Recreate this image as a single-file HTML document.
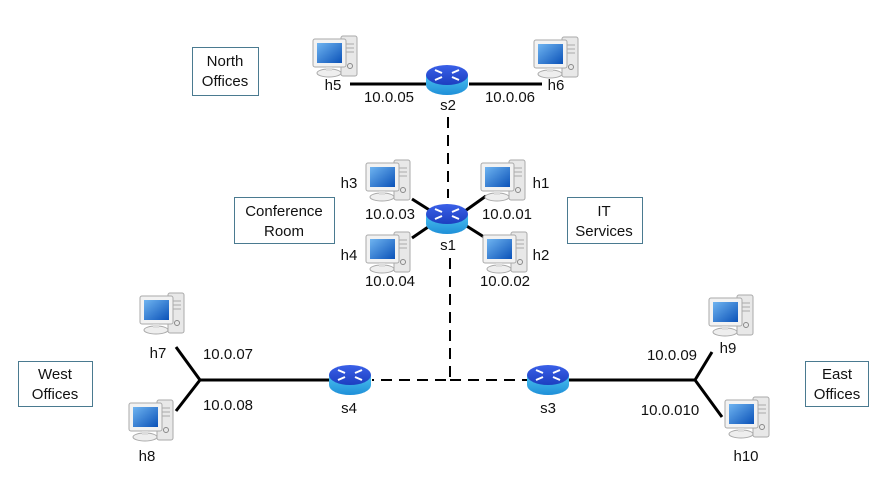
<!DOCTYPE html>
<html><head><meta charset="utf-8"><style>
html,body{margin:0;padding:0;background:#fff;width:895px;height:503px;overflow:hidden}
text{font-family:"Liberation Sans",Arial,sans-serif;font-size:15px;fill:#111}
</style></head><body>
<svg width="895" height="503" viewBox="0 0 895 503" xmlns="http://www.w3.org/2000/svg">
<defs>
<linearGradient id="scr" x1="0" y1="0" x2="1" y2="1"><stop offset="0" stop-color="#6fb4f0"/><stop offset="1" stop-color="#0b52b8"/></linearGradient>
<linearGradient id="rt" x1="0" y1="0" x2="0" y2="1"><stop offset="0" stop-color="#3a60e8"/><stop offset="1" stop-color="#1c3fc0"/></linearGradient>
<linearGradient id="rs" x1="0" y1="0" x2="0" y2="1"><stop offset="0" stop-color="#4ac0f0"/><stop offset="1" stop-color="#1f8fd8"/></linearGradient>
<g id="pc">
<rect x="29" y="0" width="16" height="40" rx="2" fill="#e8e8e8" stroke="#aaa"/>
<line x1="32" y1="8" x2="42" y2="8" stroke="#aaa"/><line x1="32" y1="12" x2="42" y2="12" stroke="#aaa"/><line x1="32" y1="16" x2="42" y2="16" stroke="#aaa"/>
<circle cx="38" cy="30" r="2.5" fill="none" stroke="#888"/>
<rect x="1" y="3" width="33" height="28" rx="2" fill="#f2f2f2" stroke="#aaa"/>
<rect x="5" y="7" width="25" height="20" fill="url(#scr)"/>
<ellipse cx="17" cy="37" rx="12" ry="4" fill="#eee" stroke="#aaa"/>
<rect x="14" y="31" width="6" height="4" fill="#ddd"/>
</g>
<g id="rtr">
<path d="M-21,-5 v10 a21,10 0 0 0 42,0 v-10 z" fill="url(#rs)"/>
<ellipse cx="0" cy="-5" rx="21" ry="10" fill="url(#rt)"/>
<g stroke="#fff" stroke-width="2"><line x1="-12" y1="-10" x2="-5" y2="-7"/><line x1="12" y1="-10" x2="5" y2="-7"/><line x1="-12" y1="0" x2="-5" y2="-3"/><line x1="12" y1="0" x2="5" y2="-3"/></g>
</g>
</defs>
<g stroke="#000" stroke-width="3" fill="none">
<line x1="350" y1="84" x2="426" y2="84"/><line x1="469" y1="84" x2="542" y2="84"/>
<line x1="412" y1="199" x2="431" y2="211"/><line x1="465" y1="211" x2="486" y2="196"/>
<line x1="412" y1="238" x2="431" y2="225"/><line x1="465" y1="225" x2="484" y2="237"/>
<polyline points="176,347 200,380 176,411"/><line x1="200" y1="380" x2="330" y2="380"/>
<line x1="568" y1="380" x2="695" y2="380"/><polyline points="712,352 695,380 722,417"/>
</g>
<g stroke="#000" stroke-width="2" fill="none" stroke-dasharray="11,7">
<line x1="448" y1="117" x2="448" y2="198"/>
<polyline points="450,258 450,380 372,380"/><line x1="450" y1="380" x2="528" y2="380"/>
</g>
<use href="#pc" x="312" y="36"/><use href="#pc" x="533" y="37"/>
<use href="#pc" x="365" y="160"/><use href="#pc" x="480" y="160"/>
<use href="#pc" x="365" y="232"/><use href="#pc" x="482" y="232"/>
<use href="#pc" x="139" y="293"/><use href="#pc" x="128" y="400"/>
<use href="#pc" x="708" y="295"/><use href="#pc" x="724" y="397"/>
<use href="#rtr" x="447" y="80"/><use href="#rtr" x="447" y="219"/>
<use href="#rtr" x="350" y="380"/><use href="#rtr" x="548" y="380"/>
<g text-anchor="middle">
<text x="333" y="90">h5</text><text x="556" y="90">h6</text><text x="448" y="110">s2</text>
<text x="389" y="102">10.0.05</text><text x="510" y="102">10.0.06</text>
<text x="349" y="188">h3</text><text x="541" y="188">h1</text>
<text x="390" y="219">10.0.03</text><text x="507" y="219">10.0.01</text>
<text x="448" y="250">s1</text>
<text x="349" y="260">h4</text><text x="541" y="260">h2</text>
<text x="390" y="286">10.0.04</text><text x="505" y="286">10.0.02</text>
<text x="158" y="358">h7</text><text x="228" y="359">10.0.07</text><text x="228" y="410">10.0.08</text>
<text x="147" y="461">h8</text><text x="349" y="413">s4</text><text x="548" y="413">s3</text>
<text x="672" y="360">10.0.09</text><text x="728" y="353">h9</text>
<text x="670" y="415">10.0.010</text><text x="746" y="461">h10</text>
</g>
<g fill="#fff" stroke="#4a7a90" stroke-width="1">
<rect x="192.5" y="47.5" width="66" height="48"/>
<rect x="234.5" y="197.5" width="100" height="46"/>
<rect x="567.5" y="197.5" width="75" height="46"/>
<rect x="18.5" y="361.5" width="74" height="45"/>
<rect x="805.5" y="361.5" width="63" height="45"/>
</g>
<g text-anchor="middle">
<text x="225" y="66">North</text><text x="225" y="86">Offices</text>
<text x="284" y="216">Conference</text><text x="284" y="236">Room</text>
<text x="604" y="216">IT</text><text x="604" y="236">Services</text>
<text x="55" y="379">West</text><text x="55" y="399">Offices</text>
<text x="837" y="379">East</text><text x="837" y="399">Offices</text>
</g>
</svg>
</body></html>
